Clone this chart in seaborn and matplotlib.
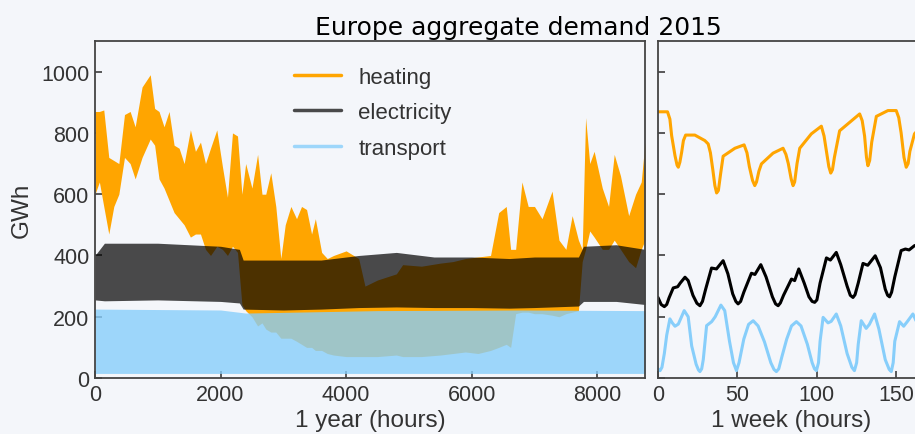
import matplotlib
matplotlib.use("Agg")
import matplotlib.pyplot as plt
from matplotlib.lines import Line2D
import seaborn as sns

# ---- one year, hourly demand envelopes (GWh) ----
heat_hours = [0, 70, 140, 220, 300, 380, 470, 560, 640, 750, 880, 950, 1020, 1100,
              1180, 1260, 1340, 1420, 1520, 1600, 1680, 1760, 1840, 1940, 2030, 2110,
              2190, 2270, 2340, 2400, 2500, 2590, 2660, 2720, 2800, 2880, 2960, 3030,
              3120, 3210, 3290, 3370, 3450, 3510, 3610, 3700, 3800, 4000, 4200, 4300,
              4500, 4800, 4900, 5200, 5500, 5700, 5900, 6100, 6300, 6430, 6550, 6620,
              6700, 6800, 6900, 7000, 7120, 7280, 7390, 7500, 7600, 7700, 7760, 7814,
              7880, 7950, 8080, 8180, 8270, 8370, 8500, 8610, 8700, 8760]
heat_hi = [870, 870, 875, 720, 710, 700, 860, 870, 820, 950, 990, 880, 870, 820,
           870, 760, 750, 700, 810, 740, 770, 700, 750, 810, 690, 590,
           800, 790, 600, 700, 620, 730, 600, 600, 670, 560, 390, 500,
           560, 520, 560, 550, 470, 520, 410, 390, 400, 415, 390, 300,
           320, 340, 370, 365, 375, 380, 390, 395, 400, 540, 560, 420,
           420, 640, 560, 560, 520, 610, 450, 420, 530, 450, 420, 850,
           700, 740, 620, 560, 730, 660, 530, 600, 640, 770]
heat_lo = [600, 640, 560, 470, 560, 600, 720, 700, 650, 720, 780, 760, 650, 620,
           580, 540, 520, 500, 460, 470, 470, 420, 400, 430, 420, 400,
           430, 410, 240, 220, 200, 170, 180, 160, 150, 150, 130, 130,
           130, 120, 110, 100, 100, 90, 90, 80, 75, 70, 70, 70,
           70, 75, 70, 70, 75, 80, 85, 80, 90, 100, 110, 100,
           210, 215, 215, 210, 210, 205, 200, 210, 215, 220, 380, 420,
           480, 460, 420, 420, 450, 420, 380, 360, 420, 450]

elec_hours = [0, 150, 1000, 2000, 2300, 2360, 3000, 3600, 4200, 4800, 5400, 6000,
              6600, 7000, 7700, 7780, 8300, 8760]
elec_hi = [400, 440, 440, 430, 420, 385, 385, 385, 400, 410, 395, 395,
           390, 395, 395, 430, 435, 420]
elec_lo = [255, 252, 255, 250, 245, 225, 222, 225, 230, 232, 230, 230,
           228, 230, 235, 250, 250, 240]

trans_hours = [0, 2000, 2400, 4500, 6800, 8760]
trans_hi = [225, 222, 212, 220, 222, 220]
trans_lo = [15, 15, 15, 15, 15, 15]

# ---- one week, hourly demand (GWh) ----
week_heat_h = [0, 6, 7.5, 8.6, 10.7, 12, 12.8, 13.8, 14.9, 16, 17.4, 23.2, 29.5,
               31.6, 33, 34.5, 35.8, 36.9, 38, 39.5, 41, 48.4, 54.2, 56, 57.5, 59.5,
               60.9, 62, 63.5, 65.1, 72.4, 78.7, 80.5, 82, 83.8, 85, 86, 87.5, 89.2,
               96.5, 102.8, 104.5, 106, 107.5, 108.7, 109.8, 111, 114.3, 126.9, 128.5,
               130, 131.2, 132.1, 133.2, 134.5, 137.4, 144.7, 149.9, 151.5, 153, 154.8,
               156.2, 157.4, 158.5, 161.4, 168]
week_heat = [869, 869, 845, 791, 726, 695, 688, 705, 737, 775, 793, 793, 775,
             764, 735, 680, 628, 604, 612, 670, 724, 750, 761, 735, 690, 645,
             628, 640, 675, 699, 734, 750, 730, 700, 650, 628, 640, 700, 750,
             797, 822, 790, 740, 690, 669, 680, 720, 807, 862, 840,
             790, 720, 693, 710, 770, 854, 873, 873, 850, 800, 720,
             688, 700, 740, 797, 835]

week_elec_h = [0, 2, 4, 5.5, 7, 9.6, 12.4, 14, 17, 19, 22, 24.5, 26.4, 28, 30, 33.7,
               36.8, 41, 44, 47, 49, 50.4, 52, 54, 58.8, 61, 64.7, 68, 72, 74, 75.6,
               77, 79, 84, 86, 88.6, 92, 95, 97, 98.6, 100, 102, 106, 108.5, 112.2,
               115, 119, 121, 122.7, 124, 126, 129, 132, 136.7, 140, 143, 144.5,
               145.7, 147, 149, 153, 155.7, 158, 161.4, 168]
week_elec = [263, 240, 233, 240, 262, 294, 298, 310, 329, 318, 270, 244, 236, 250,
             290, 359, 356, 383, 340, 275, 250, 242, 250, 280, 342, 338, 370, 330,
             265, 242, 236, 245, 270, 323, 318, 356, 310, 265, 250, 247, 255, 310,
             392, 385, 410, 370, 300, 270, 263, 272, 310, 374, 368, 399, 360, 290,
             270, 265, 280, 330, 416, 421, 418, 432, 440]

week_trans_h = [0, 1.3, 2.5, 4, 5.5, 7.5, 9, 10.7, 12.8, 16.5, 19, 21.2, 24, 25.5,
                26.4, 27.5, 28.5, 30.6, 33.8, 36, 39.6, 42, 45, 47.5, 49.4, 51, 54,
                57, 59.9, 63, 67, 71, 73, 74.5, 76, 78, 81, 84, 87.1, 90, 94, 97,
                98.5, 99.7, 101, 102, 103.9, 107, 109, 112.2, 115, 119, 122, 123.6,
                125, 126, 127.9, 131, 133, 136.3, 139, 143, 145.5, 146.8, 148, 149,
                152, 154.6, 157, 160.4, 163, 168]
week_trans = [30, 24, 35, 80, 140, 193, 180, 169, 176, 220, 200, 105, 45, 26,
              21, 30, 60, 171, 184, 200, 238, 220, 120, 50, 24, 50, 127,
              175, 187, 170, 118, 50, 28, 21, 30, 70, 127, 170, 184, 170, 110, 50,
              30, 24, 50, 120, 198, 180, 185, 209, 170, 80, 35, 24,
              50, 110, 187, 162, 175, 209, 160, 60, 28, 21, 50, 120,
              184, 169, 185, 209, 180, 60]

series_labels = ["heating", "electricity", "transport"]
year_ticks = [0, 2000, 4000, 6000, 8000]
week_ticks = [0, 50, 100, 150]
gwh_ticks = [0, 200, 400, 600, 800, 1000]

BG = "#f4f6fa"
INK = "#333333"
C_HEAT = "#ffa500"
C_ELEC = "#000000"
C_TRANS = "#87cefa"

sns.set_theme(style="ticks")
plt.rcParams["font.family"] = ["Liberation Sans", "DejaVu Sans"]
plt.rcParams.update({
    "axes.edgecolor": "#444444",
    "axes.linewidth": 1.3,
    "xtick.direction": "in",
    "ytick.direction": "in",
    "xtick.major.size": 5,
    "ytick.major.size": 5,
    "xtick.color": "#444444",
    "ytick.color": "#444444",
    "xtick.labelcolor": INK,
    "ytick.labelcolor": INK,
})

fig = plt.figure(figsize=(9.15, 4.35), dpi=100, facecolor=BG)
ax1 = fig.add_axes([0.1038, 0.1287, 0.6011, 0.7747], facecolor=BG)
ax2 = fig.add_axes([0.7191, 0.1287, 0.2918, 0.7747], facecolor=BG, sharey=ax1)

# yearly bands: heating underneath, electricity and transport translucent on top
ax1.fill_between(heat_hours, heat_lo, heat_hi, color=C_HEAT, lw=0)
ax1.fill_between(elec_hours, elec_lo, elec_hi, color=C_ELEC, alpha=0.7, lw=0)
ax1.fill_between(trans_hours, trans_lo, trans_hi, color=C_TRANS, alpha=0.8, lw=0)

# weekly profiles
line_kw = dict(lw=2.2, solid_joinstyle="round", solid_capstyle="round")
sns.lineplot(x=week_heat_h, y=week_heat, ax=ax2, color=C_HEAT, **line_kw)
sns.lineplot(x=week_elec_h, y=week_elec, ax=ax2, color=C_ELEC, **line_kw)
sns.lineplot(x=week_trans_h, y=week_trans, ax=ax2, color=C_TRANS, **line_kw)

ax1.set_xlim(0, 8760)
ax1.set_ylim(0, 1100)
ax2.set_xlim(0, 168)
ax1.set_xticks(year_ticks)
ax1.set_yticks(gwh_ticks)
ax2.set_xticks(week_ticks)
ax2.tick_params(axis="y", labelleft=False)
for ax in (ax1, ax2):
    ax.tick_params(labelsize=15.5, pad=4)
    for s in ax.spines.values():
        s.set_visible(True)

ax1.set_xlabel("1 year (hours)", fontsize=17.5, color=INK, labelpad=3)
ax2.set_xlabel("1 week (hours)", fontsize=17.5, color=INK, labelpad=3)
ax1.set_ylabel("GWh", fontsize=17.5, color=INK, labelpad=6)
ax2.set_ylabel("")

handles = [Line2D([], [], color=C_HEAT, lw=2.5),
           Line2D([], [], color=C_ELEC, alpha=0.7, lw=2.5),
           Line2D([], [], color=C_TRANS, alpha=0.8, lw=2.5)]
ax1.legend(handles, series_labels, loc="upper center", frameon=False,
           fontsize=16, labelcolor=INK, handlelength=2.1, handletextpad=0.8,
           labelspacing=0.66, borderaxespad=0.75,
           bbox_to_anchor=(0.505, 1.0))

fig.text(0.566, 0.936, "Europe aggregate demand 2015", ha="center", va="center",
         fontsize=18, color="black", family=["DejaVu Sans"])

fig.savefig("out.png", dpi=100, facecolor=BG)
